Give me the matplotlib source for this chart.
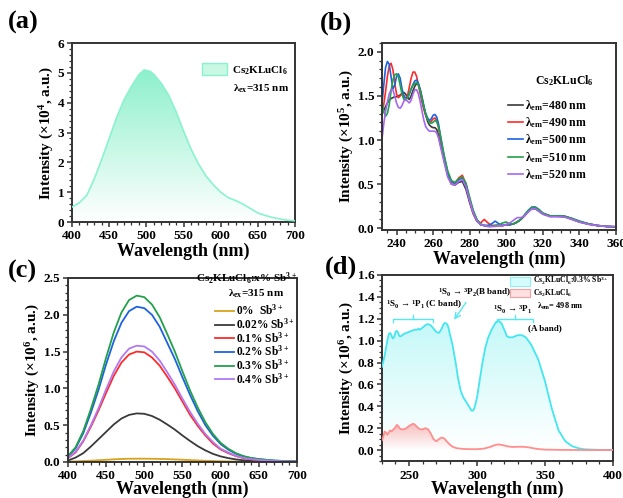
import numpy as np
import matplotlib
matplotlib.use("Agg")
import matplotlib.pyplot as plt
from matplotlib.colors import LinearSegmentedColormap
from matplotlib.patches import Patch

plt.rcParams['font.family'] = ['Liberation Serif', 'DejaVu Serif']
plt.rcParams['font.weight'] = 'bold'
plt.rcParams['mathtext.fontset'] = 'custom'
plt.rcParams['mathtext.rm'] = 'Liberation Serif:bold'
plt.rcParams['mathtext.it'] = 'Liberation Serif:bold'
plt.rcParams['mathtext.bf'] = 'Liberation Serif:bold'

# ---------------- data ----------------
# (a) PL emission of Cs2KLuCl6 (x1e4)
wl_a = [400, 410, 420, 430, 440, 450, 460, 470, 480, 490, 497, 505, 510, 520, 530, 540,
        550, 560, 570, 580, 590, 600, 610, 620, 630, 640, 650, 660, 670, 680, 690, 700]
pl_a = [0.50, 0.65, 0.90, 1.45, 2.10, 2.80, 3.50, 4.10, 4.55, 4.94, 5.10, 5.05, 4.95, 4.65, 4.25, 3.70,
        3.05, 2.45, 1.95, 1.55, 1.25, 1.00, 0.82, 0.72, 0.60, 0.45, 0.30, 0.22, 0.15, 0.10, 0.06, 0.04]

# (b) PLE spectra (x1e5)
wl_b = list(range(232, 265)) + list(range(266, 321, 2)) + [324, 328, 332, 336, 340, 345, 350, 355, 360]
ple_480 = [1.30, 1.33, 1.38, 1.42, 1.45, 1.47, 1.48, 1.49, 1.49, 1.50, 1.51, 1.53, 1.54, 1.52, 1.48, 1.46,
           1.50, 1.56, 1.61, 1.64, 1.63, 1.57, 1.48, 1.38, 1.28, 1.21, 1.17, 1.15, 1.14, 1.14, 1.12, 1.05, 0.95,
           0.78, 0.60, 0.50, 0.49, 0.52, 0.53, 0.44, 0.29, 0.16, 0.08, 0.04, 0.03, 0.03, 0.03, 0.03, 0.03,
           0.03, 0.04, 0.04, 0.05, 0.07, 0.10, 0.14, 0.19, 0.22, 0.22, 0.19, 0.16,
           0.135, 0.135, 0.13, 0.10, 0.07, 0.045, 0.03, 0.02, 0.015]
ple_490 = [1.35, 1.40, 1.55, 1.72, 1.84, 1.87, 1.80, 1.65, 1.52, 1.48, 1.50, 1.52, 1.50, 1.47, 1.50, 1.60,
           1.70, 1.77, 1.77, 1.72, 1.62, 1.52, 1.42, 1.34, 1.28, 1.24, 1.21, 1.21, 1.24, 1.25, 1.22, 1.14, 1.02,
           0.80, 0.62, 0.52, 0.51, 0.57, 0.60, 0.50, 0.32, 0.17, 0.08, 0.06, 0.10, 0.06, 0.03, 0.03, 0.03,
           0.03, 0.04, 0.04, 0.05, 0.07, 0.10, 0.14, 0.19, 0.23, 0.23, 0.20, 0.17,
           0.14, 0.14, 0.135, 0.11, 0.075, 0.05, 0.03, 0.02, 0.015]
ple_500 = [1.40, 1.62, 1.82, 1.89, 1.86, 1.72, 1.58, 1.62, 1.72, 1.75, 1.70, 1.58, 1.50, 1.47, 1.48, 1.52,
           1.58, 1.63, 1.67, 1.68, 1.64, 1.56, 1.46, 1.37, 1.30, 1.25, 1.22, 1.24, 1.28, 1.29, 1.26, 1.18, 1.05,
           0.82, 0.63, 0.53, 0.51, 0.55, 0.57, 0.49, 0.33, 0.19, 0.09, 0.04, 0.03, 0.03, 0.05, 0.08, 0.05,
           0.03, 0.04, 0.04, 0.05, 0.07, 0.10, 0.15, 0.20, 0.24, 0.24, 0.21, 0.17,
           0.14, 0.14, 0.135, 0.11, 0.08, 0.05, 0.03, 0.02, 0.015]
ple_510 = [1.45, 1.32, 1.27, 1.30, 1.40, 1.55, 1.68, 1.74, 1.75, 1.72, 1.62, 1.52, 1.46, 1.45, 1.48, 1.53,
           1.58, 1.62, 1.64, 1.65, 1.62, 1.55, 1.46, 1.37, 1.29, 1.23, 1.20, 1.19, 1.20, 1.22, 1.21, 1.15, 1.05,
           0.83, 0.65, 0.54, 0.52, 0.56, 0.58, 0.51, 0.35, 0.20, 0.10, 0.05, 0.03, 0.02, 0.02, 0.03, 0.04,
           0.06, 0.07, 0.05, 0.05, 0.07, 0.10, 0.15, 0.20, 0.235, 0.235, 0.21, 0.17,
           0.14, 0.14, 0.135, 0.11, 0.08, 0.05, 0.03, 0.02, 0.015]
ple_520 = [1.00, 1.18, 1.32, 1.43, 1.52, 1.57, 1.57, 1.50, 1.42, 1.37, 1.36, 1.39, 1.44, 1.46, 1.44, 1.42,
           1.45, 1.52, 1.57, 1.57, 1.52, 1.43, 1.32, 1.22, 1.15, 1.12, 1.10, 1.10, 1.10, 1.10, 1.08, 1.02, 0.93,
           0.75, 0.58, 0.50, 0.49, 0.53, 0.55, 0.47, 0.31, 0.17, 0.08, 0.04, 0.03, 0.02, 0.02, 0.02, 0.03,
           0.03, 0.04, 0.06, 0.09, 0.12, 0.12, 0.14, 0.18, 0.22, 0.22, 0.19, 0.16,
           0.13, 0.13, 0.125, 0.10, 0.07, 0.045, 0.03, 0.02, 0.02]
ple_labels = ['480', '490', '500', '510', '520']

# (c) PL of Sb-doped samples (x1e6)
wl_c = list(range(400, 701, 10))
pl_0 = [0.005, 0.008, 0.013, 0.018, 0.024, 0.030, 0.036, 0.041, 0.044, 0.045, 0.045, 0.044, 0.042, 0.039,
        0.035, 0.031, 0.026, 0.021, 0.017, 0.013, 0.010, 0.008, 0.006, 0.005, 0.004, 0.003, 0.003, 0.002,
        0.002, 0.002, 0.002]
pl_002 = [0.02, 0.06, 0.12, 0.21, 0.31, 0.41, 0.51, 0.59, 0.64, 0.66, 0.655, 0.625, 0.575, 0.51, 0.44,
          0.36, 0.285, 0.215, 0.158, 0.11, 0.076, 0.053, 0.035, 0.023, 0.016, 0.012, 0.009, 0.006, 0.005,
          0.003, 0.003]
pl_01 = [0.052, 0.13, 0.28, 0.48, 0.70, 0.94, 1.17, 1.35, 1.46, 1.50, 1.49, 1.42, 1.31, 1.16, 1.00, 0.82,
         0.64, 0.49, 0.36, 0.25, 0.17, 0.12, 0.08, 0.053, 0.036, 0.027, 0.02, 0.014, 0.01, 0.006, 0.006]
pl_02 = [0.074, 0.186, 0.39, 0.67, 0.98, 1.33, 1.64, 1.89, 2.05, 2.11, 2.09, 2.00, 1.84, 1.62, 1.40, 1.15,
         0.91, 0.69, 0.50, 0.355, 0.243, 0.168, 0.112, 0.075, 0.052, 0.038, 0.028, 0.019, 0.014, 0.009, 0.009]
pl_03 = [0.08, 0.20, 0.42, 0.72, 1.05, 1.42, 1.76, 2.03, 2.20, 2.26, 2.24, 2.14, 1.97, 1.74, 1.50, 1.23,
         0.97, 0.74, 0.54, 0.38, 0.26, 0.18, 0.12, 0.08, 0.055, 0.04, 0.03, 0.02, 0.015, 0.01, 0.01]
pl_04 = [0.055, 0.14, 0.29, 0.50, 0.73, 0.99, 1.23, 1.42, 1.54, 1.58, 1.57, 1.50, 1.38, 1.22, 1.05, 0.86,
         0.68, 0.52, 0.38, 0.27, 0.18, 0.13, 0.084, 0.056, 0.038, 0.028, 0.021, 0.014, 0.011, 0.007, 0.006]
sb_labels = ['0%  Sb$^{3+}$', '0.02% Sb$^{3+}$', '0.1% Sb$^{3+}$', '0.2% Sb$^{3+}$', '0.3% Sb$^{3+}$', '0.4% Sb$^{3+}$']

# (d) PLE comparison (x1e6)
wl_d1 = [230, 232, 234, 235, 236, 237, 238, 239, 240, 241, 242, 243, 244, 246, 248, 250, 252, 254, 256, 257,
         258, 260, 262, 263, 264, 266, 268, 270, 272, 274, 275, 276, 277, 278, 279, 280, 282, 284, 286, 288,
         290, 292, 294, 296, 297, 298, 300, 302, 304, 306, 308, 310, 312, 314, 316, 318, 320, 321, 322, 324,
         326, 328, 330, 333, 336, 340, 345, 350, 355, 360, 365, 370, 375, 380, 390, 400]
ple_sb = [0.76, 0.86, 1.00, 1.06, 1.07, 1.05, 1.02, 1.03, 1.08, 1.09, 1.07, 1.04, 1.04, 1.06, 1.07, 1.08,
          1.09, 1.10, 1.10, 1.11, 1.10, 1.12, 1.14, 1.15, 1.15, 1.14, 1.11, 1.08, 1.07, 1.11, 1.14, 1.16,
          1.16, 1.15, 1.12, 1.06, 0.96, 0.82, 0.66, 0.54, 0.48, 0.44, 0.40, 0.36, 0.36, 0.38, 0.48, 0.64,
          0.80, 0.93, 1.02, 1.08, 1.13, 1.17, 1.18, 1.16, 1.10, 1.07, 1.04, 1.03, 1.03, 1.04, 1.05, 1.05,
          1.03, 0.96, 0.83, 0.63, 0.38, 0.18, 0.08, 0.035, 0.015, 0.006, 0.002, 0.0]
wl_d2 = [230, 231, 232, 233, 234, 235, 236, 237, 238, 240, 241, 242, 243, 244, 246, 248, 250, 252, 253, 254,
         256, 258, 260, 262, 264, 266, 268, 270, 272, 274, 276, 278, 280, 282, 285, 290, 295, 300, 305, 310,
         313, 316, 319, 322, 326, 330, 334, 338, 342, 346, 350, 360, 380, 400]
ple_host = [0.09, 0.12, 0.17, 0.16, 0.14, 0.16, 0.18, 0.17, 0.18, 0.21, 0.23, 0.22, 0.20, 0.19, 0.19, 0.20,
            0.22, 0.235, 0.24, 0.235, 0.21, 0.19, 0.19, 0.20, 0.19, 0.15, 0.10, 0.08, 0.10, 0.115, 0.105,
            0.075, 0.05, 0.03, 0.017, 0.01, 0.008, 0.008, 0.013, 0.03, 0.045, 0.052, 0.045, 0.035, 0.028,
            0.03, 0.03, 0.025, 0.015, 0.008, 0.004, 0.002, 0.0, 0.0]

SPINE = '#333333'


def style_ax(ax):
    for s in ax.spines.values():
        s.set_linewidth(1.4)
        s.set_color(SPINE)
    ax.minorticks_on()
    ax.tick_params(which='major', direction='out', length=3.5, width=1.1, color=SPINE,
                   labelsize=9.5, pad=2)
    ax.tick_params(which='minor', direction='out', length=2, width=0.9, color=SPINE)
    ax.tick_params(top=False, right=False, which='both')
    for lab in ax.get_xticklabels() + ax.get_yticklabels():
        lab.set_fontweight('bold')


def gradient_fill(ax, x, y, color, ymax, alpha=1.0):
    x = np.asarray(x, float)
    y = np.asarray(y, float)
    poly = ax.fill_between(x, y, 0, facecolor='none', edgecolor='none')
    path = poly.get_paths()[0]
    cmap = LinearSegmentedColormap.from_list('g', ['white', color])
    grad = np.linspace(0, 1, 256).reshape(-1, 1)
    im = ax.imshow(grad, extent=[x.min(), x.max(), 0, ymax], origin='lower', aspect='auto',
                   cmap=cmap, alpha=alpha, zorder=1, interpolation='bilinear')
    im.set_clip_path(path, transform=ax.transData)


fig = plt.figure(figsize=(6.23, 4.98), dpi=100)

# ---------------- (a) ----------------
axa = fig.add_axes([0.1156, 0.5542, 0.358, 0.3594])
gradient_fill(axa, wl_a, pl_a, '#8df0cc', max(pl_a))
axa.plot(wl_a, pl_a, color='#8af2cf', lw=1.2, zorder=3)
axa.set_xlim(400, 700)
axa.set_ylim(0, 6)
axa.set_xticks(range(400, 701, 50))
axa.set_yticks(range(0, 7))
style_ax(axa)
axa.set_xlabel('Wavelength (nm)', fontsize=13, fontweight='bold', labelpad=1)
axa.set_ylabel('Intensity ($\\times$10$^{4}$, a.u.)', fontsize=11, fontweight='bold', labelpad=1)
axa.legend(handles=[Patch(facecolor='#c8f8e4', edgecolor='#8af2cf', lw=1.0)],
           labels=['Cs$_2$KLuCl$_6$'], loc='upper right', bbox_to_anchor=(1.0, 0.93),
           frameon=False, fontsize=8, handlelength=2.3, handleheight=1.3, handletextpad=0.4,
           borderaxespad=0.3)
axa.text(0.72, 0.745, '$\\lambda_{ex}$=315 nm', transform=axa.transAxes, fontsize=8,
         fontweight='bold', ha='left', va='center')

# ---------------- (b) ----------------
axb = fig.add_axes([0.613, 0.5382, 0.3756, 0.3755])
cols_b = ['#3a3a3a', '#ff2b2b', '#1f62e0', '#23a04c', '#a768f0']
series_b = [ple_480, ple_490, ple_500, ple_510, ple_520]
for vals, c, lab in zip(series_b, cols_b, ple_labels):
    axb.plot(wl_b, vals, color=c, lw=1.2, label='$\\lambda_{em}$=' + lab + ' nm')
axb.set_xlim(232, 360)
axb.set_ylim(-0.02, 2.1)
axb.set_xticks(range(240, 361, 20))
axb.set_yticks([0.0, 0.5, 1.0, 1.5, 2.0])
style_ax(axb)
axb.set_xlabel('Wavelength (nm)', fontsize=13, fontweight='bold', labelpad=1)
axb.set_ylabel('Intensity ($\\times$10$^{5}$, a.u.)', fontsize=11, fontweight='bold', labelpad=1)
axb.legend(loc='upper right', bbox_to_anchor=(0.905, 0.745), frameon=False, fontsize=8.5,
           handlelength=1.3, handletextpad=0.15, labelspacing=0.22, borderaxespad=0.2)
axb.text(0.78, 0.80, 'Cs$_2$KLuCl$_6$', transform=axb.transAxes, fontsize=8.5,
         fontweight='bold', ha='center', va='center')

# ---------------- (c) ----------------
axc = fig.add_axes([0.1091, 0.0723, 0.3676, 0.3695])
cols_c = ['#d9a21a', '#3a3a3a', '#ff2b2b', '#1f62e0', '#23a04c', '#b07af2']
series_c = [pl_0, pl_002, pl_01, pl_02, pl_03, pl_04]
for vals, c, lab in zip(series_c, cols_c, sb_labels):
    axc.plot(wl_c, vals, color=c, lw=1.3, label=lab)
axc.set_xlim(400, 700)
axc.set_ylim(0, 2.5)
axc.set_xticks(range(400, 701, 50))
axc.set_yticks([0.0, 0.5, 1.0, 1.5, 2.0, 2.5])
style_ax(axc)
axc.set_xlabel('Wavelength (nm)', fontsize=13, fontweight='bold', labelpad=-1)
axc.set_ylabel('Intensity ($\\times$10$^{6}$, a.u.)', fontsize=11, fontweight='bold', labelpad=1)
axc.legend(loc='upper right', bbox_to_anchor=(1.02, 0.9), frameon=False, fontsize=8.3,
           handlelength=1.6, handletextpad=0.2, labelspacing=-0.08, borderaxespad=0.2)
axc.text(1.0, 0.995, 'Cs$_2$KLuCl$_6$:x% Sb$^{3+}$', transform=axc.transAxes, fontsize=8,
         fontweight='bold', ha='right', va='center')
axc.text(0.82, 0.915, '$\\lambda_{ex}$=315 nm', transform=axc.transAxes, fontsize=8,
         fontweight='bold', ha='center', va='center')

# ---------------- (d) ----------------
axd = fig.add_axes([0.613, 0.0743, 0.3708, 0.3735])
gradient_fill(axd, wl_d1, ple_sb, '#c4f8f8', max(ple_sb))
gradient_fill(axd, wl_d2, ple_host, '#f6bcbc', max(ple_host))
axd.plot(wl_d1, ple_sb, color='#44e6f0', lw=1.3, zorder=3)
axd.plot(wl_d2, ple_host, color='#ff8f8f', lw=1.3, zorder=3)
axd.set_xlim(230, 400)
axd.set_ylim(-0.1, 1.6)
axd.set_xticks([250, 300, 350, 400])
axd.set_yticks(np.arange(0, 1.61, 0.2))
axd.yaxis.set_major_formatter(matplotlib.ticker.FormatStrFormatter('%.1f'))
style_ax(axd)
axd.tick_params(axis='x', which='major', pad=3)
axd.set_xlabel('Wavelength (nm)', fontsize=13, fontweight='bold', labelpad=-1)
axd.set_ylabel('Intensity ($\\times$10$^{6}$, a.u.)', fontsize=11, fontweight='bold', labelpad=1)

cyan = '#55e8f0'
for x0, x1 in [(238, 267.5), (315, 341)]:
    xm = (x0 + x1) / 2
    axd.plot([x0, x0, x1, x1], [1.17, 1.20, 1.20, 1.17], color=cyan, lw=1.0, zorder=4)
    axd.plot([xm, xm], [1.20, 1.23], color=cyan, lw=1.0, zorder=4)
axd.text(261, 1.33, '$^1$S$_0$ \u2192 $^1$P$_1$ (C band)', fontsize=6.5, fontweight='bold',
         ha='center', va='center')
axd.text(298, 1.44, '$^1$S$_0$ \u2192 $^3$P$_2$(B band)', fontsize=6.5, fontweight='bold',
         ha='center', va='center')
axd.annotate('', xy=(282, 1.17), xytext=(293, 1.37),
             arrowprops=dict(arrowstyle='->', color=cyan, lw=1.0))
axd.text(326, 1.285, '$^1$S$_0$ \u2192 $^3$P$_1$', fontsize=6.5, fontweight='bold',
         ha='center', va='center')
axd.text(350, 1.11, '(A band)', fontsize=6.5, fontweight='bold', ha='center', va='center')
axd.text(344, 1.31, '$\\lambda_{em}$= 498 nm', fontsize=6, fontweight='bold', ha='left', va='center')
axd.legend(handles=[Patch(facecolor='#d6fbfb', edgecolor='#8ef0f4', lw=0.8),
                    Patch(facecolor='#fde0e0', edgecolor='#f4a0a0', lw=0.8)],
           labels=['Cs$_2$KLuCl$_6$:0.3% Sb$^{3+}$', 'Cs$_2$KLuCl$_6$'],
           loc='upper right', bbox_to_anchor=(1.0, 1.025), frameon=False, fontsize=5.5,
           handlelength=2.6, handleheight=1.3, handletextpad=0.3, labelspacing=0.05,
           borderaxespad=0.2)

for t, (x, y) in zip(['(a)', '(b)', '(c)', '(d)'],
                     [(0.037, 0.954), (0.539, 0.954), (0.036, 0.454), (0.548, 0.464)]):
    fig.text(x, y, t, fontsize=19, fontweight='bold', ha='center', va='center')

fig.savefig('out.png', dpi=100)
